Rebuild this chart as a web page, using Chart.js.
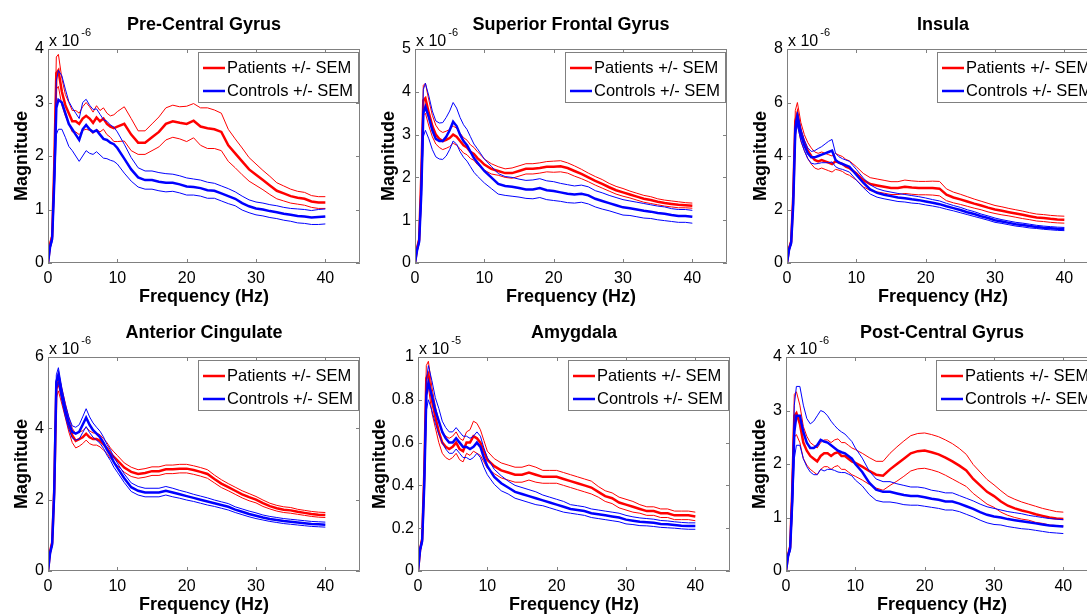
<!DOCTYPE html>
<html>
<head>
<meta charset="utf-8">
<title>Spectral magnitude by region</title>
<script src="https://cdn.jsdelivr.net/npm/chart.js@4"></script>
<style>
  body { margin: 0; width: 1087px; height: 616px; overflow: hidden; background: #fff; position: relative; }
  canvas { position: absolute; }
</style>
</head>
<body>
<script>
// frequency grid (Hz), finer around the 1-2 Hz peak
const freqs = [0, 0.3, 0.6, 0.9, 1.2, 1.5, 2, 2.5, 3, 3.5, 4, 4.5, 5, 5.5, 6, 6.5, 7, 7.5, 8, 8.5, 9, 9.5, 10,
  11, 12, 13, 14, 15, 16, 17, 18, 19, 20, 21, 22, 23, 24, 25, 26, 27, 28, 29, 30, 31, 32, 33, 34, 35, 36, 37, 38, 39, 40];

// Pre-Central Gyrus (x 10^-6)
const preCentralPatients = [0, 0.35, 0.5, 1.8, 3.55, 3.6, 3.2, 2.95, 2.8, 2.65, 2.65, 2.6, 2.7, 2.75, 2.7, 2.62, 2.72, 2.65, 2.7, 2.6, 2.55, 2.52, 2.55,
  2.6, 2.4, 2.25, 2.25, 2.35, 2.45, 2.6, 2.65, 2.62, 2.6, 2.66, 2.55, 2.52, 2.5, 2.45, 2.2, 2.05, 1.9, 1.75, 1.65, 1.55, 1.45, 1.35, 1.3, 1.25, 1.22, 1.2, 1.15, 1.13, 1.13];
const preCentralPatientsSem = [0, 0.03, 0.05, 0.15, 0.3, 0.3, 0.25, 0.2, 0.2, 0.2, 0.2, 0.2, 0.22, 0.25, 0.22, 0.2, 0.22, 0.2, 0.2, 0.2, 0.2, 0.25, 0.28,
  0.32, 0.3, 0.22, 0.22, 0.25, 0.28, 0.3, 0.3, 0.3, 0.33, 0.32, 0.35, 0.38, 0.36, 0.35, 0.3, 0.27, 0.25, 0.22, 0.2, 0.18, 0.17, 0.15, 0.14, 0.13, 0.12, 0.12, 0.11, 0.11, 0.11];
const preCentralControls = [0, 0.3, 0.45, 1.5, 2.9, 3.05, 3.0, 2.8, 2.6, 2.5, 2.4, 2.3, 2.5, 2.58, 2.5, 2.45, 2.48, 2.4, 2.32, 2.3, 2.25, 2.22, 2.15,
  1.95, 1.75, 1.6, 1.55, 1.55, 1.52, 1.5, 1.5, 1.47, 1.43, 1.42, 1.4, 1.36, 1.35, 1.3, 1.25, 1.2, 1.12, 1.06, 1.02, 1.0, 0.97, 0.95, 0.92, 0.9, 0.88, 0.87, 0.85, 0.86, 0.87];
const preCentralControlsSem = [0, 0.03, 0.05, 0.2, 0.5, 0.55, 0.5, 0.45, 0.42, 0.4, 0.4, 0.4, 0.5, 0.48, 0.45, 0.42, 0.4, 0.38, 0.36, 0.35, 0.33, 0.32, 0.3,
  0.27, 0.22, 0.18, 0.17, 0.17, 0.17, 0.17, 0.16, 0.16, 0.16, 0.15, 0.15, 0.15, 0.14, 0.14, 0.14, 0.13, 0.13, 0.12, 0.12, 0.12, 0.12, 0.12, 0.12, 0.12, 0.13, 0.13, 0.13, 0.14, 0.14];

// Superior Frontal Gyrus (x 10^-6)
const supFrontalPatients = [0, 0.35, 0.55, 2.0, 3.8, 3.85, 3.5, 3.2, 3.0, 2.9, 2.85, 2.88, 2.92, 3.0, 2.95, 2.85, 2.75, 2.7, 2.6, 2.55, 2.45, 2.38, 2.3,
  2.2, 2.15, 2.1, 2.1, 2.15, 2.2, 2.2, 2.22, 2.25, 2.25, 2.26, 2.22, 2.15, 2.08, 2.0, 1.92, 1.85, 1.77, 1.7, 1.65, 1.6, 1.55, 1.5, 1.47, 1.43, 1.4, 1.38, 1.36, 1.35, 1.34];
const supFrontalPatientsSem = [0, 0.03, 0.05, 0.15, 0.35, 0.35, 0.3, 0.25, 0.22, 0.2, 0.2, 0.2, 0.2, 0.2, 0.2, 0.18, 0.18, 0.17, 0.16, 0.15, 0.15, 0.14, 0.13,
  0.12, 0.1, 0.1, 0.12, 0.12, 0.12, 0.12, 0.12, 0.12, 0.13, 0.13, 0.12, 0.12, 0.11, 0.1, 0.1, 0.1, 0.09, 0.09, 0.09, 0.08, 0.08, 0.08, 0.08, 0.07, 0.07, 0.07, 0.07, 0.06, 0.06];
const supFrontalControls = [0, 0.3, 0.5, 1.6, 3.5, 3.65, 3.4, 3.1, 2.9, 2.85, 2.85, 2.95, 3.1, 3.3, 3.2, 3.0, 2.85, 2.75, 2.6, 2.45, 2.35, 2.25, 2.15,
  2.0, 1.85, 1.8, 1.78, 1.75, 1.72, 1.72, 1.75, 1.7, 1.68, 1.65, 1.62, 1.6, 1.62, 1.58, 1.5, 1.45, 1.4, 1.35, 1.3, 1.28, 1.25, 1.22, 1.2, 1.17, 1.15, 1.12, 1.1, 1.1, 1.08];
const supFrontalControlsSem = [0, 0.03, 0.05, 0.25, 0.55, 0.55, 0.5, 0.45, 0.42, 0.42, 0.43, 0.45, 0.45, 0.45, 0.42, 0.4, 0.38, 0.37, 0.35, 0.33, 0.32, 0.3, 0.28,
  0.26, 0.24, 0.22, 0.22, 0.21, 0.21, 0.22, 0.22, 0.22, 0.22, 0.21, 0.21, 0.2, 0.2, 0.2, 0.19, 0.19, 0.18, 0.18, 0.18, 0.17, 0.17, 0.17, 0.16, 0.16, 0.16, 0.15, 0.15, 0.15, 0.15];

// Insula (x 10^-6)
const insulaPatients = [0, 0.55, 0.8, 2.5, 5.3, 5.6, 4.9, 4.5, 4.2, 4.0, 3.85, 3.8, 3.85, 3.8, 3.75, 3.7, 3.8, 3.75, 3.7, 3.6, 3.55, 3.45, 3.35,
  3.1, 2.95, 2.9, 2.85, 2.8, 2.8, 2.85, 2.82, 2.8, 2.8, 2.8, 2.78, 2.55, 2.45, 2.38, 2.3, 2.22, 2.15, 2.07, 2.0, 1.95, 1.9, 1.85, 1.8, 1.75, 1.7, 1.68, 1.65, 1.63, 1.62];
const insulaPatientsSem = [0, 0.05, 0.08, 0.2, 0.4, 0.4, 0.35, 0.3, 0.3, 0.3, 0.3, 0.3, 0.3, 0.3, 0.3, 0.3, 0.3, 0.28, 0.28, 0.27, 0.27, 0.26, 0.25,
  0.25, 0.24, 0.24, 0.24, 0.24, 0.24, 0.25, 0.25, 0.25, 0.25, 0.26, 0.27, 0.22, 0.2, 0.19, 0.18, 0.17, 0.16, 0.16, 0.15, 0.15, 0.14, 0.14, 0.14, 0.13, 0.13, 0.13, 0.13, 0.13, 0.13];
const insulaControls = [0, 0.5, 0.75, 2.2, 5.0, 5.4, 4.8, 4.4, 4.1, 3.95, 3.95, 4.0, 4.05, 4.1, 4.15, 4.2, 3.85, 3.75, 3.7, 3.65, 3.6, 3.45, 3.3,
  3.0, 2.75, 2.62, 2.55, 2.5, 2.45, 2.42, 2.38, 2.35, 2.3, 2.25, 2.2, 2.12, 2.05, 1.98, 1.9, 1.83, 1.75, 1.68, 1.6, 1.55, 1.5, 1.45, 1.42, 1.38, 1.35, 1.32, 1.3, 1.28, 1.27];
const insulaControlsSem = [0, 0.04, 0.06, 0.15, 0.25, 0.25, 0.22, 0.2, 0.2, 0.22, 0.25, 0.28, 0.3, 0.35, 0.4, 0.42, 0.25, 0.22, 0.2, 0.2, 0.2, 0.2, 0.2,
  0.18, 0.17, 0.16, 0.15, 0.15, 0.15, 0.14, 0.14, 0.13, 0.13, 0.12, 0.12, 0.11, 0.1, 0.1, 0.09, 0.09, 0.08, 0.08, 0.08, 0.07, 0.07, 0.07, 0.07, 0.07, 0.06, 0.06, 0.06, 0.06, 0.06];

// Anterior Cingulate (x 10^-6)
const antCingPatients = [0, 0.55, 0.8, 2.3, 5.1, 5.3, 4.9, 4.5, 4.1, 3.8, 3.65, 3.7, 3.75, 3.85, 3.75, 3.7, 3.7, 3.65, 3.55, 3.45, 3.3, 3.2, 3.1,
  2.9, 2.78, 2.72, 2.75, 2.8, 2.8, 2.85, 2.85, 2.87, 2.87, 2.83, 2.78, 2.72, 2.58, 2.45, 2.35, 2.25, 2.15, 2.07, 2.0, 1.9, 1.82, 1.76, 1.72, 1.7, 1.66, 1.63, 1.6, 1.58, 1.57];
const antCingPatientsSem = [0, 0.03, 0.05, 0.15, 0.25, 0.25, 0.22, 0.2, 0.2, 0.2, 0.2, 0.2, 0.18, 0.18, 0.18, 0.17, 0.17, 0.17, 0.16, 0.15, 0.15, 0.14, 0.14,
  0.13, 0.13, 0.12, 0.12, 0.12, 0.12, 0.12, 0.12, 0.12, 0.12, 0.12, 0.12, 0.12, 0.11, 0.11, 0.1, 0.1, 0.1, 0.1, 0.09, 0.09, 0.08, 0.08, 0.08, 0.08, 0.07, 0.07, 0.07, 0.07, 0.07];
const antCingControls = [0, 0.5, 0.75, 2.2, 5.3, 5.5, 4.95, 4.5, 4.15, 3.9, 3.85, 3.9, 4.1, 4.3, 4.1, 3.95, 3.85, 3.75, 3.6, 3.4, 3.25, 3.05, 2.9,
  2.6, 2.35, 2.25, 2.2, 2.2, 2.2, 2.25, 2.2, 2.15, 2.1, 2.05, 2.0, 1.95, 1.9, 1.85, 1.8, 1.72, 1.66, 1.6, 1.55, 1.5, 1.46, 1.43, 1.4, 1.38, 1.36, 1.34, 1.32, 1.31, 1.3];
const antCingControlsSem = [0, 0.03, 0.05, 0.15, 0.2, 0.2, 0.18, 0.17, 0.17, 0.17, 0.18, 0.2, 0.22, 0.25, 0.22, 0.2, 0.18, 0.17, 0.16, 0.15, 0.15, 0.14, 0.13,
  0.12, 0.12, 0.12, 0.12, 0.12, 0.12, 0.12, 0.12, 0.11, 0.11, 0.1, 0.1, 0.1, 0.09, 0.09, 0.09, 0.08, 0.08, 0.08, 0.08, 0.07, 0.07, 0.07, 0.07, 0.07, 0.07, 0.07, 0.07, 0.07, 0.07];

// Amygdala (x 10^-5)
const amygdalaPatients = [0, 0.1, 0.15, 0.45, 0.9, 0.92, 0.8, 0.72, 0.65, 0.6, 0.58, 0.57, 0.58, 0.6, 0.57, 0.56, 0.6, 0.6, 0.63, 0.62, 0.6, 0.56, 0.52,
  0.49, 0.47, 0.46, 0.45, 0.45, 0.46, 0.45, 0.44, 0.44, 0.44, 0.43, 0.42, 0.41, 0.4, 0.39, 0.37, 0.35, 0.34, 0.32, 0.31, 0.3, 0.29, 0.28, 0.28, 0.27, 0.27, 0.26, 0.26, 0.26, 0.255];
const amygdalaPatientsSem = [0, 0.01, 0.01, 0.04, 0.06, 0.06, 0.06, 0.05, 0.05, 0.05, 0.05, 0.05, 0.05, 0.05, 0.05, 0.05, 0.05, 0.06, 0.07, 0.07, 0.06, 0.05, 0.04,
  0.035, 0.035, 0.035, 0.035, 0.035, 0.035, 0.035, 0.03, 0.03, 0.03, 0.03, 0.03, 0.03, 0.03, 0.03, 0.025, 0.025, 0.025, 0.025, 0.025, 0.025, 0.02, 0.02, 0.02, 0.02, 0.02, 0.02, 0.02, 0.02, 0.02];
const amygdalaControls = [0, 0.1, 0.14, 0.4, 0.82, 0.88, 0.82, 0.75, 0.7, 0.65, 0.62, 0.6, 0.6, 0.62, 0.6, 0.58, 0.58, 0.57, 0.58, 0.6, 0.58, 0.53, 0.49,
  0.44, 0.41, 0.39, 0.37, 0.36, 0.35, 0.34, 0.33, 0.32, 0.31, 0.3, 0.29, 0.285, 0.28, 0.27, 0.265, 0.26, 0.255, 0.25, 0.24, 0.235, 0.23, 0.228, 0.225, 0.22, 0.218, 0.215, 0.212, 0.21, 0.21];
const amygdalaControlsSem = [0, 0.01, 0.01, 0.04, 0.07, 0.08, 0.07, 0.06, 0.06, 0.05, 0.05, 0.05, 0.05, 0.05, 0.05, 0.05, 0.05, 0.05, 0.05, 0.05, 0.05, 0.045, 0.04,
  0.035, 0.035, 0.03, 0.03, 0.03, 0.03, 0.03, 0.025, 0.025, 0.025, 0.025, 0.02, 0.02, 0.02, 0.02, 0.02, 0.02, 0.02, 0.02, 0.02, 0.018, 0.018, 0.017, 0.017, 0.016, 0.016, 0.015, 0.015, 0.015, 0.015];

// Post-Central Gyrus (x 10^-6)
const postCentralPatients = [0, 0.3, 0.45, 1.5, 2.9, 2.95, 2.75, 2.4, 2.25, 2.15, 2.1, 2.05, 2.15, 2.2, 2.2, 2.15, 2.2, 2.22, 2.15, 2.15, 2.1, 2.05, 2.02,
  1.95, 1.87, 1.8, 1.78, 1.9, 2.0, 2.1, 2.2, 2.24, 2.25, 2.22, 2.18, 2.12, 2.05, 1.97, 1.88, 1.72, 1.6, 1.48, 1.4, 1.3, 1.22, 1.17, 1.13, 1.1, 1.06, 1.03, 1.0, 0.98, 0.97];
const postCentralPatientsSem = [0, 0.03, 0.05, 0.25, 0.4, 0.4, 0.35, 0.3, 0.27, 0.25, 0.25, 0.25, 0.25, 0.25, 0.25, 0.25, 0.25, 0.25, 0.25, 0.25, 0.25, 0.25, 0.25,
  0.25, 0.25, 0.25, 0.27, 0.3, 0.32, 0.33, 0.33, 0.33, 0.33, 0.33, 0.33, 0.33, 0.33, 0.32, 0.3, 0.27, 0.25, 0.23, 0.21, 0.2, 0.18, 0.17, 0.16, 0.15, 0.15, 0.14, 0.14, 0.13, 0.13];
const postCentralControls = [0, 0.28, 0.42, 1.3, 2.6, 2.9, 2.9, 2.6, 2.4, 2.3, 2.3, 2.35, 2.45, 2.42, 2.4, 2.35, 2.3, 2.25, 2.22, 2.2, 2.15, 2.1, 2.0,
  1.85, 1.65, 1.52, 1.48, 1.48, 1.45, 1.42, 1.4, 1.4, 1.38, 1.35, 1.33, 1.3, 1.3, 1.26, 1.21, 1.16, 1.1, 1.05, 1.02, 1.0, 0.97, 0.95, 0.93, 0.91, 0.89, 0.87, 0.85, 0.84, 0.83];
const postCentralControlsSem = [0, 0.03, 0.05, 0.25, 0.5, 0.55, 0.55, 0.5, 0.45, 0.45, 0.5, 0.55, 0.55, 0.55, 0.5, 0.45, 0.42, 0.4, 0.38, 0.36, 0.34, 0.32, 0.3,
  0.26, 0.22, 0.2, 0.19, 0.19, 0.18, 0.18, 0.17, 0.17, 0.17, 0.16, 0.16, 0.16, 0.16, 0.15, 0.15, 0.15, 0.15, 0.15, 0.15, 0.14, 0.14, 0.14, 0.14, 0.13, 0.13, 0.13, 0.13, 0.13, 0.13];

const FONT = '"Liberation Sans", Arial, Helvetica, sans-serif';
const RED = '#ff0000';
const BLUE = '#0000ff';

// plot-area left edge (page px), y-axis band width and row offset for each subplot
const panels = [
  { title: 'Pre-Central Gyrus', exponent: '-6', yMax: 4, yStep: 1, plotLeft: 48, axisW: 48, top: 0,
    patients: preCentralPatients, patientsSem: preCentralPatientsSem, controls: preCentralControls, controlsSem: preCentralControlsSem },
  { title: 'Superior Frontal Gyrus', exponent: '-6', yMax: 5, yStep: 1, plotLeft: 415, axisW: 48, top: 0,
    patients: supFrontalPatients, patientsSem: supFrontalPatientsSem, controls: supFrontalControls, controlsSem: supFrontalControlsSem },
  { title: 'Insula', exponent: '-6', yMax: 8, yStep: 2, plotLeft: 787, axisW: 48, top: 0,
    patients: insulaPatients, patientsSem: insulaPatientsSem, controls: insulaControls, controlsSem: insulaControlsSem },
  { title: 'Anterior Cingulate', exponent: '-6', yMax: 6, yStep: 2, plotLeft: 48, axisW: 48, top: 308,
    patients: antCingPatients, patientsSem: antCingPatientsSem, controls: antCingControls, controlsSem: antCingControlsSem },
  { title: 'Amygdala', exponent: '-5', yMax: 1, yStep: 0.2, plotLeft: 418, axisW: 60, top: 308,
    patients: amygdalaPatients, patientsSem: amygdalaPatientsSem, controls: amygdalaControls, controlsSem: amygdalaControlsSem },
  { title: 'Post-Central Gyrus', exponent: '-6', yMax: 4, yStep: 1, plotLeft: 786, axisW: 48, top: 308,
    patients: postCentralPatients, patientsSem: postCentralPatientsSem, controls: postCentralControls, controlsSem: postCentralControlsSem }
];

// MATLAB-like box, inward ticks, title, exponent and legend
const matlabAxes = {
  id: 'matlabAxes',
  afterDraw(chart, args, opts) {
    const { ctx, chartArea: a, scales: { x, y } } = chart;
    ctx.save();
    ctx.strokeStyle = '#808080';
    ctx.lineWidth = 1;
    ctx.beginPath();
    ctx.rect(a.left + 0.5, a.top + 0.5, a.right - a.left - 1, a.bottom - a.top - 1);
    x.ticks.forEach(t => {
      const px = Math.round(x.getPixelForValue(t.value)) + 0.5;
      ctx.moveTo(px, a.bottom); ctx.lineTo(px, a.bottom - 4);
      ctx.moveTo(px, a.top); ctx.lineTo(px, a.top + 4);
    });
    y.ticks.forEach(t => {
      const py = Math.round(y.getPixelForValue(t.value)) + 0.5;
      ctx.moveTo(a.left, py); ctx.lineTo(a.left + 4, py);
      ctx.moveTo(a.right, py); ctx.lineTo(a.right - 4, py);
    });
    ctx.stroke();

    ctx.fillStyle = '#000';
    ctx.textBaseline = 'middle';
    ctx.textAlign = 'center';
    ctx.font = 'bold 18px ' + FONT;
    ctx.fillText(opts.title, (a.left + a.right) / 2, a.top - 24);

    ctx.textAlign = 'left';
    ctx.font = '16px ' + FONT;
    ctx.fillText('x 10', a.left + 1, a.top - 7);
    const w = ctx.measureText('x 10').width;
    ctx.font = '11px ' + FONT;
    ctx.fillText(opts.exponent, a.left + 3 + w, a.top - 16);

    const bx = a.right - 162, by = a.top + 3;
    ctx.fillStyle = '#fff';
    ctx.fillRect(bx, by, 161, 50);
    ctx.strokeStyle = '#808080';
    ctx.lineWidth = 1;
    ctx.strokeRect(bx + 0.5, by + 0.5, 160, 50);
    [['Patients +/- SEM', RED, 16], ['Controls +/- SEM', BLUE, 39]].forEach(([label, color, dy]) => {
      ctx.strokeStyle = color;
      ctx.lineWidth = 2.5;
      ctx.beginPath();
      ctx.moveTo(bx + 5, by + dy);
      ctx.lineTo(bx + 27, by + dy);
      ctx.stroke();
      ctx.fillStyle = '#000';
      ctx.font = '16.5px ' + FONT;
      ctx.fillText(label, bx + 29, by + dy);
    });
    ctx.restore();
  }
};

function series(mean, sem, sign) {
  return freqs.map((f, i) => ({ x: f, y: mean[i] + sign * sem[i] }));
}

function line(data, color, width) {
  return { data, borderColor: color, borderWidth: width, pointRadius: 0, fill: false, tension: 0 };
}

Chart.defaults.font.family = FONT;
Chart.defaults.color = '#000';

panels.forEach(p => {
  const canvas = document.createElement('canvas');
  canvas.width = 320 + p.axisW;
  canvas.height = 308;
  canvas.style.left = (p.plotLeft - p.axisW) + 'px';
  canvas.style.top = p.top + 'px';
  document.body.appendChild(canvas);

  new Chart(canvas, {
    type: 'line',
    data: {
      datasets: [
        // controls listed first so they end up on top
        line(series(p.controls, p.controlsSem, 0), BLUE, 2.5),
        line(series(p.controls, p.controlsSem, 1), BLUE, 1),
        line(series(p.controls, p.controlsSem, -1), BLUE, 1),
        line(series(p.patients, p.patientsSem, 0), RED, 2.5),
        line(series(p.patients, p.patientsSem, 1), RED, 1),
        line(series(p.patients, p.patientsSem, -1), RED, 1)
      ]
    },
    options: {
      responsive: false,
      animation: false,
      events: [],
      layout: { padding: { top: 49, right: 8, bottom: 0, left: 0 } },
      plugins: {
        legend: { display: false },
        tooltip: { enabled: false },
        matlabAxes: { title: p.title, exponent: p.exponent }
      },
      scales: {
        x: {
          type: 'linear', min: 0, max: 45,
          grid: { display: false, drawTicks: false },
          border: { display: false },
          ticks: { stepSize: 10, padding: 6, font: { size: 16 } },
          afterBuildTicks: s => { s.ticks = s.ticks.filter(t => t.value % 10 === 0); },
          afterFit: s => { s.height = 45; },
          title: { display: true, text: 'Frequency (Hz)', font: { size: 18, weight: 'bold' }, padding: { top: 0, bottom: 0 } }
        },
        y: {
          min: 0, max: p.yMax,
          grid: { display: false, drawTicks: false },
          border: { display: false },
          ticks: { stepSize: p.yStep, padding: 4, font: { size: 16 }, callback: v => String(+v.toFixed(2)) },
          afterFit: s => { s.width = p.axisW; },
          title: { display: true, text: 'Magnitude', font: { size: 18, weight: 'bold' }, padding: { top: 11, bottom: 0 } }
        }
      }
    },
    plugins: [matlabAxes]
  });
});
</script>
</body>
</html>
